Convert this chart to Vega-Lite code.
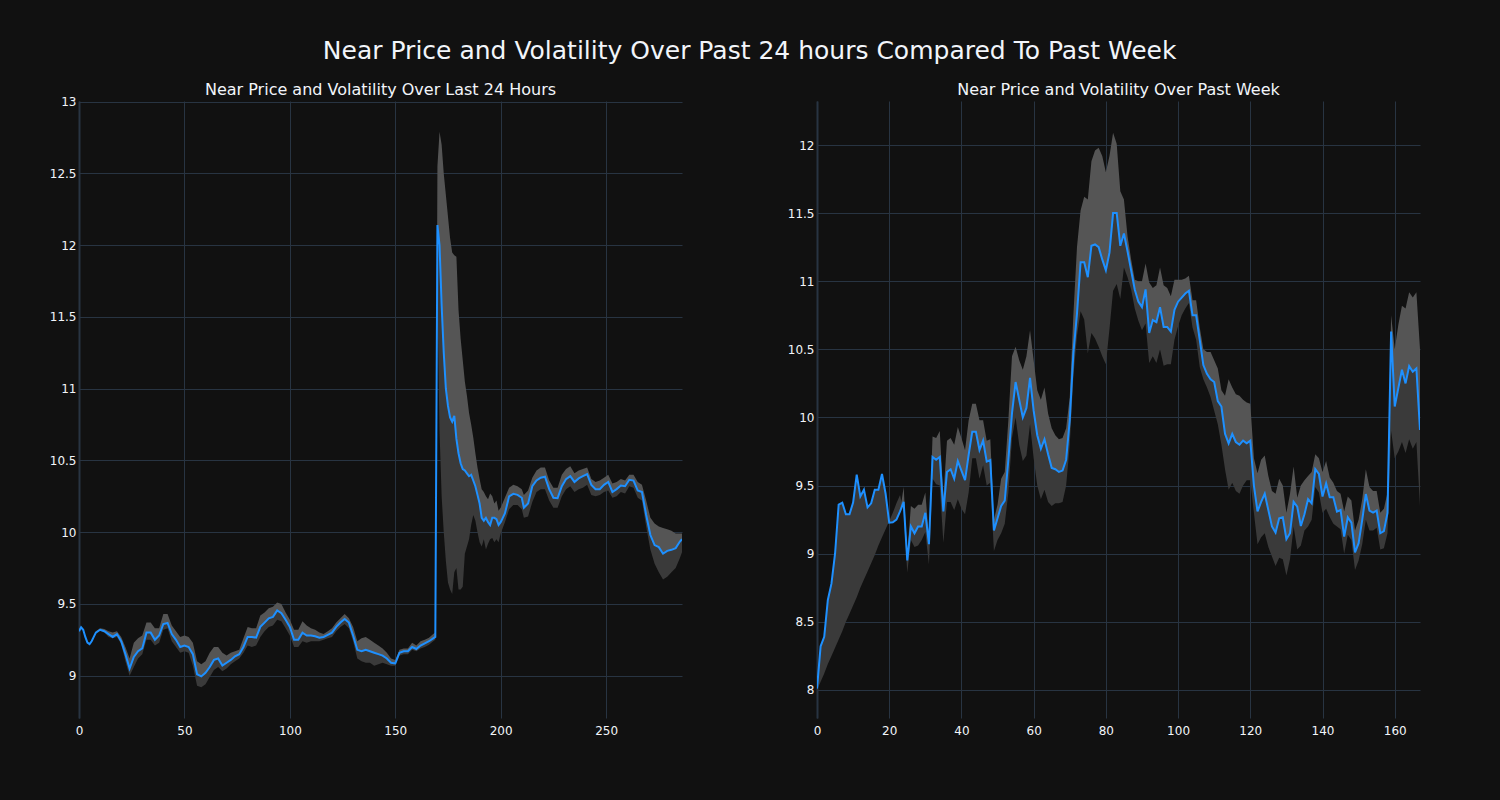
{
"$schema": "https://vega.github.io/schema/vega-lite/v6.json",
"background": "#111111",
"padding": {"left": 49, "top": 38, "right": 82, "bottom": 72},
"title": {"text": "Near Price and Volatility Over Past 24 hours Compared To Past Week", "fontSize": 25, "font": "DejaVu Sans", "fontWeight": "normal", "color": "#f2f5fa", "anchor": "middle", "offset": 18, "dx": 15},
"spacing": 105,
"datasets": {
"left": [
{"x":0,"p":9.31,"lo":9.305,"hi":9.315},{"x":1,"p":9.337,"lo":9.332,"hi":9.342},{"x":2,"p":9.32,"lo":9.315,"hi":9.325},{"x":3,"p":9.27,"lo":9.265,"hi":9.275},{"x":4,"p":9.23,"lo":9.225,"hi":9.235},{"x":5,"p":9.22,"lo":9.215,"hi":9.225},{"x":6,"p":9.24,"lo":9.235,"hi":9.245},{"x":7,"p":9.27,"lo":9.265,"hi":9.275},
{"x":8,"p":9.30,"lo":9.30,"hi":9.31},{"x":10,"p":9.32,"lo":9.315,"hi":9.33},{"x":12,"p":9.31,"lo":9.30,"hi":9.325},{"x":14,"p":9.29,"lo":9.27,"hi":9.31},{"x":16,"p":9.27,"lo":9.26,"hi":9.30},{"x":18,"p":9.29,"lo":9.27,"hi":9.31},{"x":20,"p":9.24,"lo":9.22,"hi":9.27},{"x":22,"p":9.15,"lo":9.10,"hi":9.20},{"x":24,"p":9.05,"lo":9.00,"hi":9.12},{"x":26,"p":9.13,"lo":9.06,"hi":9.23},{"x":28,"p":9.17,"lo":9.12,"hi":9.26},{"x":30,"p":9.19,"lo":9.15,"hi":9.28},{"x":32,"p":9.30,"lo":9.25,"hi":9.37},{"x":34,"p":9.30,"lo":9.25,"hi":9.37},{"x":36,"p":9.25,"lo":9.21,"hi":9.33},{"x":38,"p":9.28,"lo":9.23,"hi":9.33},{"x":40,"p":9.36,"lo":9.32,"hi":9.43},{"x":42,"p":9.367,"lo":9.33,"hi":9.43},{"x":44,"p":9.29,"lo":9.24,"hi":9.35},{"x":46,"p":9.25,"lo":9.20,"hi":9.31},{"x":48,"p":9.20,"lo":9.16,"hi":9.27},{"x":50,"p":9.21,"lo":9.17,"hi":9.28},{"x":52,"p":9.20,"lo":9.16,"hi":9.27},{"x":54,"p":9.15,"lo":9.07,"hi":9.23},{"x":56,"p":9.01,"lo":8.93,"hi":9.10},{"x":58,"p":8.995,"lo":8.92,"hi":9.08},{"x":60,"p":9.02,"lo":8.94,"hi":9.10},{"x":62,"p":9.06,"lo":8.99,"hi":9.16},{"x":64,"p":9.11,"lo":9.04,"hi":9.20},{"x":66,"p":9.12,"lo":9.06,"hi":9.20},{"x":68,"p":9.07,"lo":9.03,"hi":9.16},{"x":70,"p":9.09,"lo":9.05,"hi":9.14},{"x":72,"p":9.11,"lo":9.08,"hi":9.16},{"x":74,"p":9.135,"lo":9.10,"hi":9.17},{"x":76,"p":9.15,"lo":9.12,"hi":9.18},{"x":78,"p":9.20,"lo":9.16,"hi":9.26},{"x":80,"p":9.27,"lo":9.21,"hi":9.34},{"x":82,"p":9.27,"lo":9.20,"hi":9.33},{"x":84,"p":9.265,"lo":9.21,"hi":9.33},{"x":86,"p":9.34,"lo":9.27,"hi":9.42},{"x":88,"p":9.37,"lo":9.31,"hi":9.44},{"x":90,"p":9.40,"lo":9.34,"hi":9.47},{"x":92,"p":9.41,"lo":9.35,"hi":9.48},{"x":94,"p":9.455,"lo":9.39,"hi":9.51},{"x":96,"p":9.435,"lo":9.38,"hi":9.50},{"x":98,"p":9.39,"lo":9.33,"hi":9.44},{"x":100,"p":9.34,"lo":9.28,"hi":9.39},{"x":102,"p":9.25,"lo":9.20,"hi":9.32},{"x":104,"p":9.25,"lo":9.20,"hi":9.32},{"x":106,"p":9.30,"lo":9.24,"hi":9.38},{"x":108,"p":9.28,"lo":9.23,"hi":9.35},{"x":110,"p":9.28,"lo":9.24,"hi":9.33},{"x":112,"p":9.275,"lo":9.24,"hi":9.32},{"x":114,"p":9.265,"lo":9.24,"hi":9.30},{"x":116,"p":9.27,"lo":9.25,"hi":9.29},{"x":118,"p":9.285,"lo":9.26,"hi":9.31},{"x":120,"p":9.30,"lo":9.27,"hi":9.33},{"x":122,"p":9.34,"lo":9.31,"hi":9.37},{"x":124,"p":9.37,"lo":9.34,"hi":9.40},{"x":126,"p":9.395,"lo":9.36,"hi":9.43},{"x":128,"p":9.37,"lo":9.33,"hi":9.40},{"x":130,"p":9.28,"lo":9.24,"hi":9.34},{"x":132,"p":9.18,"lo":9.12,"hi":9.24},{"x":134,"p":9.17,"lo":9.10,"hi":9.26},{"x":136,"p":9.18,"lo":9.09,"hi":9.27},{"x":138,"p":9.17,"lo":9.09,"hi":9.25},{"x":140,"p":9.16,"lo":9.07,"hi":9.23},{"x":142,"p":9.15,"lo":9.08,"hi":9.21},{"x":144,"p":9.14,"lo":9.09,"hi":9.19},{"x":146,"p":9.12,"lo":9.08,"hi":9.16},{"x":148,"p":9.09,"lo":9.07,"hi":9.12},{"x":150,"p":9.085,"lo":9.07,"hi":9.11},{"x":152,"p":9.16,"lo":9.14,"hi":9.18},{"x":154,"p":9.17,"lo":9.15,"hi":9.19},{"x":156,"p":9.17,"lo":9.15,"hi":9.19},{"x":158,"p":9.20,"lo":9.18,"hi":9.23},{"x":160,"p":9.186,"lo":9.17,"hi":9.21},{"x":162,"p":9.21,"lo":9.19,"hi":9.24},{"x":164,"p":9.225,"lo":9.20,"hi":9.25},{"x":166,"p":9.24,"lo":9.215,"hi":9.265},{"x":168,"p":9.26,"lo":9.24,"hi":9.29},{"x":169,"p":9.27,"lo":9.25,"hi":9.30},
{"x":170,"p":12.14,"lo":11.6,"hi":12.55},{"x":171,"p":12.0,"lo":10.7,"hi":12.79},{"x":172,"p":11.58,"lo":10.25,"hi":12.70},{"x":173,"p":11.25,"lo":10.0,"hi":12.50},{"x":174,"p":11.0,"lo":9.8,"hi":12.35},{"x":175,"p":10.88,"lo":9.65,"hi":12.2},{"x":176,"p":10.80,"lo":9.60,"hi":12.05},{"x":177,"p":10.77,"lo":9.57,"hi":11.95},{"x":178,"p":10.81,"lo":9.72,"hi":11.93},{"x":179,"p":10.65,"lo":9.75,"hi":11.92},{"x":180,"p":10.55,"lo":9.60,"hi":11.55},{"x":181,"p":10.48,"lo":9.60,"hi":11.35},{"x":182,"p":10.44,"lo":9.62,"hi":11.20},{"x":183,"p":10.43,"lo":9.85,"hi":11.05},{"x":184,"p":10.41,"lo":9.90,"hi":10.95},{"x":185,"p":10.39,"lo":9.95,"hi":10.83},{"x":186,"p":10.40,"lo":10.05,"hi":10.75},{"x":187,"p":10.36,"lo":10.12,"hi":10.66},{"x":188,"p":10.32,"lo":10.08,"hi":10.55},{"x":189,"p":10.26,"lo":10.0,"hi":10.45},{"x":190,"p":10.20,"lo":9.93,"hi":10.37},{"x":191,"p":10.10,"lo":9.90,"hi":10.30},{"x":192,"p":10.08,"lo":9.95,"hi":10.28},{"x":193,"p":10.10,"lo":9.88,"hi":10.25},{"x":194,"p":10.07,"lo":9.92,"hi":10.23},{"x":195,"p":10.05,"lo":9.95,"hi":10.27},{"x":196,"p":10.10,"lo":9.96,"hi":10.25},{"x":197,"p":10.10,"lo":9.93,"hi":10.20},{"x":198,"p":10.09,"lo":9.95,"hi":10.22},{"x":199,"p":10.05,"lo":9.93,"hi":10.15},{"x":200,"p":10.07,"lo":9.99,"hi":10.17},
{"x":202,"p":10.13,"lo":10.07,"hi":10.24},{"x":204,"p":10.25,"lo":10.16,"hi":10.31},{"x":206,"p":10.267,"lo":10.19,"hi":10.33},{"x":208,"p":10.26,"lo":10.19,"hi":10.32},{"x":210,"p":10.24,"lo":10.16,"hi":10.30},{"x":211,"p":10.17,"lo":10.10,"hi":10.26},{"x":213,"p":10.20,"lo":10.11,"hi":10.29},{"x":215,"p":10.32,"lo":10.21,"hi":10.38},{"x":217,"p":10.36,"lo":10.28,"hi":10.43},{"x":219,"p":10.38,"lo":10.30,"hi":10.45},{"x":221,"p":10.387,"lo":10.30,"hi":10.45},{"x":223,"p":10.30,"lo":10.22,"hi":10.36},{"x":225,"p":10.24,"lo":10.17,"hi":10.31},{"x":227,"p":10.237,"lo":10.17,"hi":10.31},{"x":229,"p":10.32,"lo":10.25,"hi":10.40},{"x":231,"p":10.37,"lo":10.30,"hi":10.44},{"x":233,"p":10.39,"lo":10.32,"hi":10.46},{"x":235,"p":10.35,"lo":10.28,"hi":10.41},{"x":237,"p":10.375,"lo":10.30,"hi":10.43},{"x":239,"p":10.39,"lo":10.31,"hi":10.44},{"x":241,"p":10.405,"lo":10.33,"hi":10.45},{"x":243,"p":10.33,"lo":10.26,"hi":10.37},{"x":245,"p":10.30,"lo":10.25,"hi":10.35},{"x":247,"p":10.30,"lo":10.26,"hi":10.36},{"x":249,"p":10.33,"lo":10.28,"hi":10.38},{"x":251,"p":10.35,"lo":10.29,"hi":10.40},{"x":253,"p":10.28,"lo":10.24,"hi":10.34},{"x":255,"p":10.30,"lo":10.25,"hi":10.35},{"x":257,"p":10.325,"lo":10.28,"hi":10.37},{"x":259,"p":10.32,"lo":10.27,"hi":10.36},{"x":261,"p":10.365,"lo":10.32,"hi":10.40},{"x":263,"p":10.36,"lo":10.31,"hi":10.40},{"x":265,"p":10.29,"lo":10.24,"hi":10.35},{"x":267,"p":10.28,"lo":10.22,"hi":10.33},{"x":269,"p":10.12,"lo":10.04,"hi":10.22},{"x":271,"p":9.98,"lo":9.88,"hi":10.10},{"x":273,"p":9.91,"lo":9.78,"hi":10.06},{"x":275,"p":9.896,"lo":9.72,"hi":10.04},{"x":277,"p":9.85,"lo":9.67,"hi":10.03},{"x":279,"p":9.87,"lo":9.69,"hi":10.02},{"x":281,"p":9.877,"lo":9.72,"hi":10.01},{"x":283,"p":9.889,"lo":9.75,"hi":9.99},{"x":285,"p":9.935,"lo":9.82,"hi":9.99},{"x":286,"p":9.951,"lo":9.86,"hi":9.99}
],
"right": [
{"x":0,"p":8.01,"lo":8.0,"hi":8.01},{"x":1,"p":8.32,"lo":8.06,"hi":8.32},{"x":2,"p":8.39,"lo":8.12,"hi":8.39},{"x":3,"p":8.66,"lo":8.19,"hi":8.66},{"x":4,"p":8.78,"lo":8.25,"hi":8.78},{"x":5,"p":9.0,"lo":8.31,"hi":9.0},{"x":6,"p":9.36,"lo":8.37,"hi":9.36},{"x":7,"p":9.375,"lo":8.43,"hi":9.375},{"x":8,"p":9.29,"lo":8.5,"hi":9.29},{"x":9,"p":9.29,"lo":8.56,"hi":9.29},{"x":10,"p":9.375,"lo":8.62,"hi":9.375},{"x":11,"p":9.58,"lo":8.68,"hi":9.58},{"x":12,"p":9.42,"lo":8.75,"hi":9.42},{"x":13,"p":9.47,"lo":8.81,"hi":9.47},{"x":14,"p":9.34,"lo":8.87,"hi":9.34},{"x":15,"p":9.37,"lo":8.93,"hi":9.37},{"x":16,"p":9.47,"lo":8.99,"hi":9.47},{"x":17,"p":9.47,"lo":9.06,"hi":9.47},{"x":18,"p":9.585,"lo":9.12,"hi":9.585},{"x":19,"p":9.44,"lo":9.18,"hi":9.44},{"x":20,"p":9.228,"lo":9.24,"hi":9.228},{"x":21,"p":9.23,"lo":9.30,"hi":9.23},{"x":22,"p":9.25,"lo":9.37,"hi":9.25},{"x":23,"p":9.31,"lo":9.43,"hi":9.31},
{"x":24,"p":9.38,"lo":9.30,"hi":9.49},{"x":25,"p":8.95,"lo":8.86,"hi":9.0},{"x":26,"p":9.2,"lo":9.1,"hi":9.35},{"x":27,"p":9.15,"lo":9.05,"hi":9.33},{"x":28,"p":9.2,"lo":9.06,"hi":9.36},{"x":29,"p":9.2,"lo":9.1,"hi":9.36},{"x":30,"p":9.3,"lo":9.16,"hi":9.45},{"x":31,"p":9.07,"lo":8.92,"hi":9.12},{"x":32,"p":9.71,"lo":9.55,"hi":9.86},{"x":33,"p":9.69,"lo":9.51,"hi":9.85},{"x":34,"p":9.71,"lo":9.5,"hi":9.9},{"x":35,"p":9.31,"lo":9.08,"hi":9.42},{"x":36,"p":9.6,"lo":9.38,"hi":9.83},{"x":37,"p":9.62,"lo":9.38,"hi":9.85},{"x":38,"p":9.55,"lo":9.32,"hi":9.8},{"x":39,"p":9.68,"lo":9.4,"hi":9.93},{"x":40,"p":9.61,"lo":9.33,"hi":9.85},{"x":41,"p":9.54,"lo":9.29,"hi":9.76},{"x":42,"p":9.725,"lo":9.45,"hi":9.98},{"x":43,"p":9.896,"lo":9.7,"hi":10.1},{"x":44,"p":9.896,"lo":9.7,"hi":10.1},{"x":45,"p":9.76,"lo":9.55,"hi":9.98},{"x":46,"p":9.83,"lo":9.65,"hi":9.98},{"x":47,"p":9.676,"lo":9.5,"hi":9.83},{"x":48,"p":9.688,"lo":9.52,"hi":9.84},{"x":49,"p":9.17,"lo":9.02,"hi":9.25},{"x":50,"p":9.26,"lo":9.1,"hi":9.36},
{"x":51,"p":9.35,"lo":9.15,"hi":9.55},{"x":52,"p":9.39,"lo":9.22,"hi":9.6},{"x":53,"p":9.69,"lo":9.45,"hi":9.98},{"x":54,"p":10.03,"lo":9.85,"hi":10.45},{"x":55,"p":10.26,"lo":10.0,"hi":10.52},{"x":56,"p":10.13,"lo":9.8,"hi":10.42},{"x":57,"p":10.0,"lo":9.68,"hi":10.35},{"x":58,"p":10.07,"lo":9.72,"hi":10.45},{"x":59,"p":10.29,"lo":9.95,"hi":10.64},{"x":60,"p":10.05,"lo":9.7,"hi":10.42},{"x":61,"p":9.87,"lo":9.5,"hi":10.2},{"x":62,"p":9.77,"lo":9.4,"hi":10.13},{"x":63,"p":9.84,"lo":9.47,"hi":10.22},{"x":64,"p":9.73,"lo":9.38,"hi":10.03},{"x":65,"p":9.63,"lo":9.35,"hi":9.92},{"x":66,"p":9.62,"lo":9.37,"hi":9.87},{"x":67,"p":9.6,"lo":9.37,"hi":9.84},{"x":68,"p":9.61,"lo":9.38,"hi":9.85},{"x":69,"p":9.69,"lo":9.5,"hi":9.92},{"x":70,"p":9.98,"lo":9.8,"hi":10.15},
{"x":71,"p":10.47,"lo":10.3,"hi":10.75},{"x":72,"p":10.76,"lo":10.6,"hi":11.25},{"x":73,"p":11.14,"lo":10.78,"hi":11.52},{"x":74,"p":11.14,"lo":10.72,"hi":11.62},{"x":75,"p":11.03,"lo":10.47,"hi":11.6},{"x":76,"p":11.26,"lo":10.62,"hi":11.88},{"x":77,"p":11.27,"lo":10.58,"hi":11.96},{"x":78,"p":11.25,"lo":10.52,"hi":11.98},{"x":79,"p":11.16,"lo":10.45,"hi":11.92},{"x":80,"p":11.08,"lo":10.39,"hi":11.8},{"x":81,"p":11.21,"lo":10.65,"hi":11.92},{"x":82,"p":11.5,"lo":10.93,"hi":12.09},{"x":83,"p":11.5,"lo":10.98,"hi":12.01},{"x":84,"p":11.26,"lo":10.87,"hi":11.66},{"x":85,"p":11.35,"lo":11.1,"hi":11.6},{"x":86,"p":11.22,"lo":11.03,"hi":11.33},{"x":87,"p":11.08,"lo":10.94,"hi":11.16},{"x":88,"p":10.94,"lo":10.8,"hi":11.01},{"x":89,"p":10.85,"lo":10.71,"hi":11.0},{"x":90,"p":10.81,"lo":10.64,"hi":11.0},
{"x":91,"p":10.94,"lo":10.69,"hi":11.13},{"x":92,"p":10.62,"lo":10.4,"hi":10.99},{"x":93,"p":10.715,"lo":10.45,"hi":10.95},{"x":94,"p":10.7,"lo":10.4,"hi":10.97},{"x":95,"p":10.81,"lo":10.5,"hi":11.1},{"x":96,"p":10.665,"lo":10.38,"hi":10.97},{"x":97,"p":10.665,"lo":10.39,"hi":10.95},{"x":98,"p":10.63,"lo":10.39,"hi":10.89},{"x":99,"p":10.79,"lo":10.57,"hi":11.01},{"x":100,"p":10.85,"lo":10.67,"hi":11.01},{"x":101,"p":10.88,"lo":10.75,"hi":11.01},{"x":102,"p":10.91,"lo":10.8,"hi":11.02},{"x":103,"p":10.93,"lo":10.84,"hi":11.04},{"x":104,"p":10.75,"lo":10.66,"hi":10.86},{"x":105,"p":10.75,"lo":10.57,"hi":10.86},{"x":106,"p":10.57,"lo":10.37,"hi":10.66},{"x":107,"p":10.385,"lo":10.28,"hi":10.5},{"x":108,"p":10.32,"lo":10.22,"hi":10.48},{"x":109,"p":10.28,"lo":10.15,"hi":10.48},{"x":110,"p":10.26,"lo":10.05,"hi":10.42},
{"x":111,"p":10.12,"lo":9.95,"hi":10.36},{"x":112,"p":10.08,"lo":9.8,"hi":10.2},{"x":113,"p":9.88,"lo":9.62,"hi":10.16},{"x":114,"p":9.81,"lo":9.47,"hi":10.28},{"x":115,"p":9.88,"lo":9.52,"hi":10.22},{"x":116,"p":9.82,"lo":9.46,"hi":10.17},{"x":117,"p":9.8,"lo":9.44,"hi":10.16},{"x":118,"p":9.83,"lo":9.5,"hi":10.13},{"x":119,"p":9.81,"lo":9.54,"hi":10.11},{"x":120,"p":9.83,"lo":9.54,"hi":10.1},{"x":121,"p":9.5,"lo":9.3,"hi":9.7},{"x":122,"p":9.31,"lo":9.07,"hi":9.59},{"x":123,"p":9.38,"lo":9.12,"hi":9.69},{"x":124,"p":9.44,"lo":9.15,"hi":9.72},{"x":125,"p":9.32,"lo":9.05,"hi":9.57},{"x":126,"p":9.2,"lo":8.98,"hi":9.46},{"x":127,"p":9.155,"lo":8.91,"hi":9.44},{"x":128,"p":9.26,"lo":8.97,"hi":9.55},{"x":129,"p":9.267,"lo":8.96,"hi":9.5},{"x":130,"p":9.106,"lo":8.84,"hi":9.3},
{"x":131,"p":9.15,"lo":8.96,"hi":9.44},{"x":132,"p":9.38,"lo":9.2,"hi":9.64},{"x":133,"p":9.345,"lo":9.03,"hi":9.41},{"x":134,"p":9.203,"lo":9.06,"hi":9.5},{"x":135,"p":9.29,"lo":9.17,"hi":9.54},{"x":136,"p":9.4,"lo":9.2,"hi":9.57},{"x":137,"p":9.37,"lo":9.25,"hi":9.6},{"x":138,"p":9.62,"lo":9.49,"hi":9.73},{"x":139,"p":9.585,"lo":9.45,"hi":9.7},{"x":140,"p":9.42,"lo":9.3,"hi":9.6},{"x":141,"p":9.516,"lo":9.33,"hi":9.68},{"x":142,"p":9.414,"lo":9.27,"hi":9.56},{"x":143,"p":9.414,"lo":9.22,"hi":9.52},{"x":144,"p":9.309,"lo":9.2,"hi":9.46},{"x":145,"p":9.321,"lo":9.18,"hi":9.44},{"x":146,"p":9.125,"lo":9.0,"hi":9.31},{"x":147,"p":9.267,"lo":9.14,"hi":9.42},{"x":148,"p":9.228,"lo":9.1,"hi":9.39},{"x":149,"p":9.01,"lo":8.88,"hi":9.17},{"x":150,"p":9.077,"lo":8.95,"hi":9.25},
{"x":151,"p":9.248,"lo":9.07,"hi":9.4},{"x":152,"p":9.438,"lo":9.25,"hi":9.62},{"x":153,"p":9.316,"lo":9.17,"hi":9.49},{"x":154,"p":9.301,"lo":9.17,"hi":9.46},{"x":155,"p":9.316,"lo":9.19,"hi":9.46},{"x":156,"p":9.15,"lo":9.03,"hi":9.3},{"x":157,"p":9.165,"lo":9.04,"hi":9.33},{"x":158,"p":9.3,"lo":9.15,"hi":9.45},{"x":159,"p":10.63,"lo":9.9,"hi":10.75},{"x":160,"p":10.08,"lo":9.7,"hi":10.5},{"x":161,"p":10.215,"lo":9.75,"hi":10.68},{"x":162,"p":10.35,"lo":9.82,"hi":10.82},{"x":163,"p":10.25,"lo":9.74,"hi":10.8},{"x":164,"p":10.377,"lo":9.84,"hi":10.92},{"x":165,"p":10.336,"lo":9.77,"hi":10.88},{"x":166,"p":10.36,"lo":9.82,"hi":10.92},{"x":167,"p":9.908,"lo":9.35,"hi":10.5}
]
},
"hconcat": [
{
"width": 603, "height": 617,
"data": {"name": "left"},
"title": {"text": "Near Price and Volatility Over Last 24 Hours", "fontSize": 16, "font": "DejaVu Sans", "fontWeight": "normal", "color": "#f2f5fa", "offset": -2},
"layer": [
{"mark": {"type": "area", "color": "#3a3a3a", "clip": true}, "encoding": {"x": {"field": "x", "type": "quantitative", "scale": {"domain": [0, 286], "nice": false, "zero": false}, "axis": {"values": [0,50,100,150,200,250]}}, "y": {"field": "lo", "type": "quantitative", "scale": {"domain": [8.705, 13.005], "nice": false, "zero": false}, "axis": {"values": [9,9.5,10,10.5,11,11.5,12,12.5,13]}}, "y2": {"field": "p"}}},
{"mark": {"type": "area", "color": "#555555", "clip": true}, "encoding": {"x": {"field": "x", "type": "quantitative"}, "y": {"field": "p", "type": "quantitative"}, "y2": {"field": "hi"}}},
{"mark": {"type": "line", "color": "#1e90ff", "strokeWidth": 2, "clip": true}, "encoding": {"x": {"field": "x", "type": "quantitative"}, "y": {"field": "p", "type": "quantitative"}}}
]
},
{
"width": 603, "height": 617,
"data": {"name": "right"},
"title": {"text": "Near Price and Volatility Over Past Week", "fontSize": 16, "font": "DejaVu Sans", "fontWeight": "normal", "color": "#f2f5fa", "offset": 3},
"layer": [
{"mark": {"type": "area", "color": "#3a3a3a", "clip": true}, "encoding": {"x": {"field": "x", "type": "quantitative", "scale": {"domain": [0, 167], "nice": false, "zero": false}, "axis": {"values": [0,20,40,60,80,100,120,140,160]}}, "y": {"field": "lo", "type": "quantitative", "scale": {"domain": [7.794, 12.323], "nice": false, "zero": false}, "axis": {"values": [8,8.5,9,9.5,10,10.5,11,11.5,12]}}, "y2": {"field": "p"}}},
{"mark": {"type": "area", "color": "#555555", "clip": true}, "encoding": {"x": {"field": "x", "type": "quantitative"}, "y": {"field": "p", "type": "quantitative"}, "y2": {"field": "hi"}}},
{"mark": {"type": "line", "color": "#1e90ff", "strokeWidth": 2, "clip": true}, "encoding": {"x": {"field": "x", "type": "quantitative"}, "y": {"field": "p", "type": "quantitative"}}}
]
}
],
"config": {
"view": {"stroke": null},
"axis": {"gridColor": "#283442", "gridWidth": 1, "ticks": false, "labelColor": "#f2f5fa", "labelFont": "DejaVu Sans", "labelFontSize": 12, "title": null, "format": "~f"},
"axisX": {"domain": false, "labelPadding": 7, "labelFlush": false},
"axisY": {"domain": true, "domainColor": "#283442", "domainWidth": 2, "labelPadding": 3}
}
}
